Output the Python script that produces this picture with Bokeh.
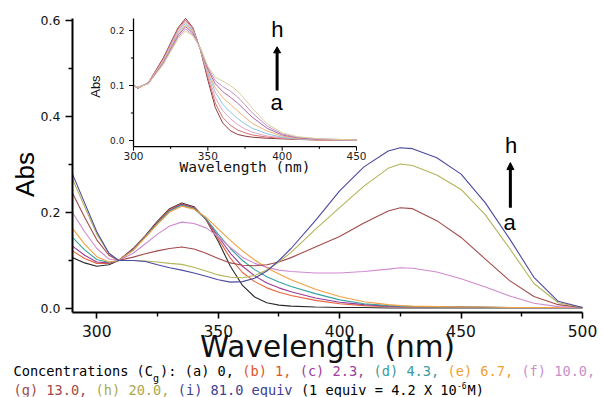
import math
from bokeh.plotting import figure
from bokeh.models import Range1d, Arrow, NormalHead, FixedTicker, PrintfTickFormatter
from bokeh.core.properties import value
from bokeh.embed import file_html
from bokeh.resources import INLINE

# ---------------- main spectra (Abs vs wavelength, nm) ----------------
wavelength = [290, 295, 300, 305, 309, 315, 320, 325, 330, 335, 340, 345, 350, 355, 360, 365,
              370, 375, 380, 390, 400, 410, 420, 425, 430, 440, 450, 460, 470, 480, 490, 500]
abs_a = [0.106, 0.095, 0.088, 0.091, 0.100, 0.125, 0.152, 0.182, 0.208, 0.220, 0.212, 0.185, 0.140, 0.088, 0.048, 0.024,
         0.012, 0.007, 0.005, 0.003, 0.002, 0.002, 0.001, 0.001, 0.001, 0.001, 0.001, 0.001, 0.001, 0.001, 0.001, 0.001]
abs_b = [0.120, 0.104, 0.094, 0.094, 0.100, 0.124, 0.151, 0.180, 0.206, 0.218, 0.210, 0.185, 0.145, 0.105, 0.075, 0.056,
         0.043, 0.034, 0.027, 0.017, 0.010, 0.006, 0.004, 0.004, 0.003, 0.003, 0.003, 0.002, 0.002, 0.002, 0.002, 0.002]
abs_c = [0.130, 0.111, 0.097, 0.095, 0.100, 0.123, 0.150, 0.179, 0.204, 0.217, 0.209, 0.186, 0.150, 0.115, 0.088, 0.068,
         0.053, 0.043, 0.035, 0.022, 0.013, 0.008, 0.005, 0.004, 0.004, 0.003, 0.003, 0.002, 0.002, 0.002, 0.002, 0.002]
abs_d = [0.148, 0.122, 0.102, 0.096, 0.100, 0.122, 0.149, 0.178, 0.203, 0.215, 0.208, 0.187, 0.155, 0.125, 0.100, 0.081,
         0.066, 0.055, 0.046, 0.031, 0.018, 0.010, 0.006, 0.005, 0.004, 0.003, 0.003, 0.003, 0.002, 0.002, 0.002, 0.002]
abs_e = [0.167, 0.134, 0.108, 0.097, 0.100, 0.121, 0.148, 0.176, 0.201, 0.213, 0.207, 0.190, 0.166, 0.142, 0.120, 0.101,
         0.085, 0.072, 0.060, 0.040, 0.025, 0.014, 0.008, 0.006, 0.005, 0.004, 0.003, 0.003, 0.002, 0.002, 0.002, 0.002]
abs_f = [0.200, 0.160, 0.125, 0.103, 0.100, 0.115, 0.135, 0.155, 0.172, 0.180, 0.177, 0.168, 0.150, 0.127, 0.107, 0.094,
         0.086, 0.080, 0.077, 0.074, 0.074, 0.077, 0.082, 0.085, 0.084, 0.076, 0.062, 0.045, 0.026, 0.011, 0.004, 0.002]
abs_g = [0.240, 0.190, 0.143, 0.111, 0.100, 0.107, 0.114, 0.120, 0.125, 0.128, 0.124, 0.115, 0.104, 0.095, 0.090, 0.089,
         0.091, 0.097, 0.106, 0.128, 0.150, 0.178, 0.203, 0.210, 0.208, 0.183, 0.148, 0.103, 0.058, 0.025, 0.008, 0.002]
abs_h = [0.270, 0.212, 0.155, 0.115, 0.100, 0.100, 0.099, 0.097, 0.094, 0.092, 0.086, 0.078, 0.070, 0.065, 0.064, 0.069,
         0.080, 0.097, 0.117, 0.165, 0.210, 0.255, 0.292, 0.301, 0.298, 0.278, 0.248, 0.195, 0.125, 0.052, 0.012, 0.002]
abs_i = [0.280, 0.220, 0.160, 0.115, 0.100, 0.100, 0.098, 0.091, 0.085, 0.080, 0.074, 0.067, 0.060, 0.055, 0.056, 0.063,
         0.078, 0.100, 0.125, 0.183, 0.245, 0.295, 0.328, 0.335, 0.333, 0.314, 0.280, 0.220, 0.145, 0.065, 0.015, 0.002]
main_series = [abs_a, abs_b, abs_c, abs_d, abs_e, abs_f, abs_g, abs_h, abs_i]
main_colors = ["#2a2a2a", "#e8643c", "#9a3a9a", "#3aa0a0", "#f4a040", "#d08ad0", "#a44a4a", "#b4b45a", "#4a4aa0"]

x_major_ticks = [300, 350, 400, 450, 500]
x_minor_ticks = [325, 375, 425, 475]
y_major_ticks = [0.0, 0.2, 0.4, 0.6]
y_minor_ticks = [0.1, 0.3, 0.5]

# ---------------- inset spectra ----------------
inset_wl = [300, 303, 310, 320, 330, 335, 340, 345, 350, 355, 360, 365, 370, 375, 380, 390, 400, 410, 425, 450]
ins_a = [0.100, 0.095, 0.105, 0.150, 0.205, 0.222, 0.205, 0.165, 0.110, 0.060, 0.032, 0.018, 0.011, 0.008, 0.006, 0.004, 0.003, 0.002, 0.001, 0.001]
ins_b = [0.100, 0.095, 0.105, 0.148, 0.203, 0.219, 0.203, 0.165, 0.115, 0.068, 0.042, 0.028, 0.019, 0.014, 0.010, 0.006, 0.004, 0.002, 0.001, 0.001]
ins_c = [0.100, 0.096, 0.105, 0.146, 0.200, 0.216, 0.201, 0.166, 0.120, 0.078, 0.054, 0.040, 0.029, 0.021, 0.015, 0.008, 0.005, 0.003, 0.002, 0.001]
ins_d = [0.100, 0.096, 0.104, 0.144, 0.197, 0.213, 0.199, 0.166, 0.124, 0.088, 0.066, 0.052, 0.040, 0.030, 0.022, 0.012, 0.006, 0.003, 0.002, 0.001]
ins_e = [0.100, 0.096, 0.104, 0.143, 0.194, 0.210, 0.197, 0.167, 0.127, 0.096, 0.078, 0.066, 0.054, 0.042, 0.031, 0.017, 0.008, 0.004, 0.002, 0.001]
ins_f = [0.100, 0.097, 0.104, 0.141, 0.191, 0.207, 0.195, 0.167, 0.130, 0.103, 0.089, 0.079, 0.068, 0.055, 0.042, 0.022, 0.010, 0.005, 0.002, 0.001]
ins_g = [0.100, 0.097, 0.103, 0.140, 0.188, 0.203, 0.192, 0.168, 0.133, 0.109, 0.098, 0.090, 0.079, 0.065, 0.050, 0.026, 0.012, 0.006, 0.003, 0.001]
ins_h = [0.100, 0.097, 0.103, 0.138, 0.185, 0.199, 0.190, 0.168, 0.135, 0.115, 0.108, 0.100, 0.090, 0.075, 0.058, 0.030, 0.014, 0.007, 0.003, 0.001]
inset_series = [ins_a, ins_b, ins_c, ins_d, ins_e, ins_f, ins_g, ins_h]
inset_colors = ["#8a3a3a", "#d87070", "#e2a2c4", "#8cc4dc", "#f2b27a", "#a868a8", "#c78fc7", "#d6d29a"]
inset_x_ticks = [300, 350, 400, 450]
inset_x_minor = [325, 375, 425]
inset_y_ticks = [0.0, 0.1, 0.2]
inset_y_minor = [0.05, 0.15]
inset_x_labels = ["300", "350", "400", "450"]
inset_y_labels = ["0.0", "0.1", "0.2"]

# ---------------- legend text ----------------
line1 = [("Concentrations (C", "black", "n"), ("g", "black", "sub"), ("): (a) 0, ", "black", "n"),
         ("(b) 1, ", "#e0552a", "n"), ("(c) 2.3, ", "#a03ca0", "n"), ("(d) 4.3, ", "#3c9c9c", "n"),
         ("(e) 6.7, ", "#f0a030", "n"), ("(f) 10.0,", "#c890c8", "n")]
line2 = [("(g) 13.0, ", "#a04848", "n"), ("(h) 20.0, ", "#a8a850", "n"), ("(i) 81.0 equiv", "#404090", "n"),
         (" (1 equiv = 4.2 X 10", "black", "n"), ("-6", "black", "sup"), ("M)", "black", "n")]

FONT = "DejaVu Sans"
MONO = "DejaVu Sans Mono"
ARIAL = "Liberation Sans"

# page geometry of the axes box (pixels) and its data extent
W, H = 602, 397
BOX_L, BOX_R, BOX_T, BOX_B = 72, 582, 18, 312
XMIN, XMAX = 290, 500
YMIN, YMAX = -0.00833, 0.60417
sx = (BOX_R - BOX_L) / (XMAX - XMIN)
sy = (BOX_B - BOX_T) / (YMAX - YMIN)
x_start, x_end = XMIN - BOX_L / sx, XMAX + (W - BOX_R) / sx
y_start, y_end = YMIN - (H - BOX_B) / sy, YMAX + BOX_T / sy

p = figure(width=W, height=H, x_range=Range1d(x_start, x_end), y_range=Range1d(y_start, y_end),
           output_backend="svg", toolbar_location=None, title_location=None, min_border=0)
p.outline_line_color = None
p.xgrid.visible = False
p.ygrid.visible = False

for ys, col in zip(main_series, main_colors):
    p.line(wavelength, ys, line_color=col, line_width=1.1)

xa = p.xaxis[0]
xa.fixed_location = YMIN
xa.bounds = (XMIN, XMAX)
xa.ticker = FixedTicker(ticks=x_major_ticks, minor_ticks=x_minor_ticks)
xa.formatter = PrintfTickFormatter(format="%d")
ya = p.yaxis[0]
ya.fixed_location = XMIN
ya.bounds = (YMIN, YMAX)
ya.ticker = FixedTicker(ticks=y_major_ticks, minor_ticks=y_minor_ticks)
ya.formatter = PrintfTickFormatter(format="%.1f")
for ax in (xa, ya):
    ax.axis_line_width = 2
    ax.axis_line_color = "black"
    ax.major_tick_line_width = 1.6
    ax.minor_tick_line_width = 1.4
    ax.major_tick_in = 0
    ax.minor_tick_in = 0
    ax.major_label_text_font = FONT
    ax.major_label_text_color = "#111111"
xa.major_tick_out = 6
xa.minor_tick_out = 4
xa.major_label_text_font_size = "15.5px"
xa.major_label_standoff = 6
ya.major_tick_out = 7
ya.minor_tick_out = 4
ya.major_label_text_font_size = "12.5px"
ya.major_label_standoff = 5

MID = "middle"

# main h / a arrow
p.add_layout(Arrow(end=NormalHead(size=7, fill_color="black", line_color="black"),
                   x_start=470.3, y_start=0.21, x_end=470.3, y_end=0.304, line_width=3, line_color="black"))
p.text(x=[470.6], y=[0.3396], text=["h"], text_font=value(ARIAL), text_font_size="22px",
       text_align="center", text_baseline=MID, text_color="black")
p.text(x=[470.0], y=[0.180], text=["a"], text_font=value(ARIAL), text_font_size="22px",
       text_align="center", text_baseline=MID, text_color="black")

# ---------------- inset through a sub-coordinate system ----------------
xy = p.subplot(x_source=Range1d(300, 450), y_source=Range1d(0.0, 0.2),
               x_target=Range1d(315.12, 406.94), y_target=Range1d(0.35, 0.5792))

for ys, col in zip(inset_series, inset_colors):
    xy.line(inset_wl, ys, line_color=col, line_width=1)

AXY = -0.011
xy.segment(x0=[300, 300], y0=[AXY, AXY], x1=[450, 300], y1=[AXY, 0.222], line_color="black", line_width=1.3)
xy.segment(x0=inset_x_ticks, y0=[AXY] * len(inset_x_ticks), x1=inset_x_ticks, y1=[AXY - 0.0075] * len(inset_x_ticks),
           line_color="black", line_width=1)
xy.segment(x0=inset_x_minor, y0=[AXY] * len(inset_x_minor), x1=inset_x_minor, y1=[AXY - 0.0045] * len(inset_x_minor),
           line_color="black", line_width=1)
xy.segment(x0=[300] * len(inset_y_ticks), y0=inset_y_ticks, x1=[297.0] * len(inset_y_ticks), y1=inset_y_ticks,
           line_color="black", line_width=1)
xy.segment(x0=[300] * len(inset_y_minor), y0=inset_y_minor, x1=[298.2] * len(inset_y_minor), y1=inset_y_minor,
           line_color="black", line_width=1)
xy.text(x=inset_x_ticks, y=[-0.0285] * len(inset_x_ticks), text=inset_x_labels, text_font=value(FONT),
        text_font_size="10.5px", text_align="center", text_baseline=MID, text_color="#222222")
xy.text(x=[293.9] * len(inset_y_ticks), y=inset_y_ticks, text=inset_y_labels, text_font=value(FONT),
        text_font_size="9px", text_align="right", text_baseline=MID, text_color="#222222")
xy.text(x=[375], y=[-0.049], text=["Wavelength (nm)"], text_font=value(MONO), text_font_size="14.5px",
        text_align="center", text_baseline=MID, text_color="#111111")
xy.text(x=[274.3], y=[0.098], text=["Abs"], text_font=value(ARIAL), text_font_size="13px", angle=math.pi / 2,
        text_align="center", text_baseline=MID, text_color="#111111")
xy.segment(x0=[396.6], y0=[0.0909], x1=[396.6], y1=[0.160], line_color="black", line_width=3)
xy.scatter(x=[396.6], y=[0.163], marker="triangle", size=7, fill_color="black", line_color="black")
xy.text(x=[396.8], y=[0.2027], text=["h"], text_font=value(ARIAL), text_font_size="22px",
        text_align="center", text_baseline=MID, text_color="black")
xy.text(x=[396.3], y=[0.0698], text=["a"], text_font=value(ARIAL), text_font_size="22px",
        text_align="center", text_baseline=MID, text_color="black")

# ---------------- titles and caption, in page-pixel coordinates ----------------
cap = p.subplot(x_source=Range1d(0, W), y_source=Range1d(H, 0),
                x_target=Range1d(x_start, x_end), y_target=Range1d(y_start, y_end))

cap.text(x=[24], y=[174], text=["Abs"], text_font=value(ARIAL), text_font_size="26px", angle=math.pi / 2,
         text_align="center", text_baseline=MID, text_color="black")
cap.text(x=[327], y=[346], text=["Wavelength (nm)"], text_font=value(FONT), text_font_size="29.5px",
         text_align="center", text_baseline=MID, text_color="#111111")

fs = 13.64
cw = 0.602 * fs


def legend_line(segments, x0, mid):
    x = x0
    for text, col, kind in segments:
        stripped = text.lstrip(" ")
        x += cw * (len(text) - len(stripped))
        t = stripped.rstrip(" ")
        if kind == "sub":
            cap.text(x=[x], y=[mid + 7], text=[t], text_font=value(MONO), text_font_size="10px",
                     text_color=col, text_align="left", text_baseline=MID)
            x += 0.602 * 10 * len(t) + 1
        elif kind == "sup":
            cap.text(x=[x], y=[mid - 5], text=[t], text_font=value(MONO), text_font_size="8px",
                     text_color=col, text_align="left", text_baseline=MID)
            x += 0.602 * 8 * len(t) + 1
        else:
            cap.text(x=[x], y=[mid], text=[t], text_font=value(MONO), text_font_size="%.2fpx" % fs,
                     text_color=col, text_align="left", text_baseline=MID)
            x += cw * len(stripped)


legend_line(line1, 13, 370.5)
legend_line(line2, 13, 389.5)

open("out.html", "w").write(file_html(p, INLINE))
